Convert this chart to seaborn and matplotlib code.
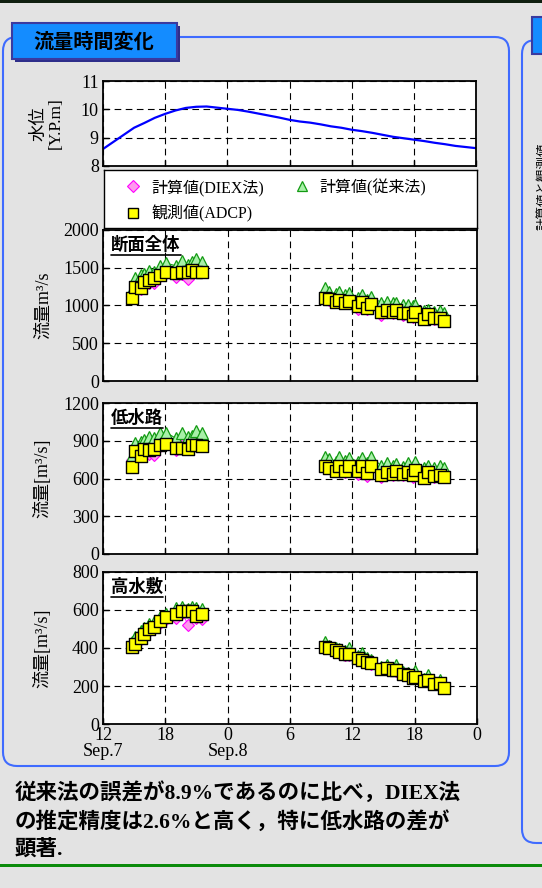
import matplotlib
matplotlib.use("Agg")
import matplotlib.pyplot as plt
import pandas as pd
import seaborn as sns
from matplotlib.patches import FancyBboxPatch, Rectangle
from matplotlib.transforms import IdentityTransform
from matplotlib.font_manager import FontProperties
from matplotlib.lines import Line2D

sns.set_style("white")
FAMILY = ["Liberation Serif", "Noto Sans CJK JP", "DejaVu Sans"]
plt.rcParams["font.family"] = FAMILY
for key in ["text.color", "axes.labelcolor", "xtick.color", "ytick.color"]:
    plt.rcParams[key] = "black"

W, H, DPI = 542, 888, 100

# ---- water level (hours counted from Sep.7 0:00) ----
stage_hour = [12, 13, 14, 15, 16, 17, 18, 19, 20, 21, 22, 23, 24, 25, 26, 27, 28, 29, 30,
              31, 32, 33, 34, 35, 36, 37, 38, 39, 40, 41, 42, 43, 44, 45, 46, 47, 48]
stage_level = [8.60, 8.85, 9.10, 9.35, 9.52, 9.70, 9.84, 9.96, 10.05, 10.09, 10.10, 10.06,
               10.02, 9.98, 9.92, 9.85, 9.78, 9.71, 9.63, 9.57, 9.53, 9.47, 9.40, 9.35,
               9.28, 9.23, 9.17, 9.10, 9.03, 8.98, 8.93, 8.88, 8.82, 8.77, 8.71, 8.67, 8.63]

# ---- ADCP measurement times: rising run (Sep.7) and falling run (Sep.8) ----
run_a_hour = [14.8, 15.1, 15.7, 15.9, 16.4, 16.9, 17.5, 18.1, 19.0, 19.6, 20.2, 20.6, 21.0, 21.5]
run_b_hour = [33.4, 33.8, 34.4, 34.7, 35.3, 35.7, 36.5, 36.9, 37.4, 37.8, 38.8, 39.3,
              39.9, 40.2, 40.9, 41.4, 41.8, 42.0, 42.9, 43.3, 43.9, 44.4, 44.8]

# ---- whole cross-section ----
total_adcp = [1104, 1249, 1236, 1316, 1338, 1360, 1410, 1440, 1426, 1440, 1440, 1465, 1440, 1440,
              1104, 1082, 1051, 1073, 1038, 1060, 995, 1051, 963, 1020, 918, 940,
              918, 940, 896, 905, 861, 909, 817, 883, 830, 830, 795]
total_diex = [1120, 1235, 1215, 1290, 1300, 1295, 1390, 1430, 1380, 1420, 1350, 1450, 1440, 1455,
              1090, 1070, 1040, 1060, 1030, 1045, 960, 1035, 950, 1005, 880, 930,
              905, 925, 880, 895, 850, 895, 815, 870, 825, 820, 790]
total_conv = [1205, 1360, 1400, 1420, 1457, 1450, 1527, 1559, 1527, 1589, 1540, 1572, 1612, 1572,
              1228, 1183, 1152, 1175, 1140, 1170, 1100, 1139, 1075, 1117, 1038, 1051,
              1030, 1038, 1007, 1000, 990, 1007, 925, 940, 915, 931, 896]

# ---- main channel ----
main_adcp = [692, 821, 781, 835, 830, 838, 870, 878, 840, 846, 838, 870, 864, 856,
             702, 686, 660, 702, 660, 702, 660, 702, 641, 702, 628, 649,
             638, 660, 638, 649, 628, 668, 607, 649, 622, 628, 614]
main_diex = [745, 810, 790, 820, 795, 790, 860, 880, 830, 870, 835, 890, 880, 870,
             705, 690, 662, 700, 655, 695, 635, 698, 620, 698, 610, 648,
             630, 655, 630, 645, 615, 660, 605, 640, 612, 620, 610]
main_conv = [779, 880, 893, 905, 928, 920, 959, 964, 920, 964, 930, 940, 980, 959,
             774, 755, 730, 769, 740, 765, 735, 761, 720, 774, 700, 721,
             700, 718, 695, 721, 690, 734, 680, 702, 685, 702, 680]

# ---- flood plain ----
flood_adcp = [407, 420, 452, 475, 499, 512, 540, 561, 579, 593, 593, 596, 571, 579,
              407, 399, 390, 378, 367, 367, 346, 337, 328, 320, 291, 295,
              282, 282, 261, 256, 243, 247, 226, 230, 208, 215, 190]
flood_diex = [410, 425, 450, 470, 490, 505, 530, 555, 560, 585, 522, 590, 560, 554,
              405, 400, 388, 376, 365, 365, 345, 335, 320, 315, 290, 295,
              282, 280, 262, 255, 245, 248, 228, 232, 215, 218, 200]
flood_conv = [430, 457, 492, 505, 527, 535, 565, 579, 611, 616, 605, 616, 611, 607,
              434, 410, 400, 395, 385, 399, 360, 374, 345, 335, 300, 310,
              295, 311, 275, 270, 260, 277, 235, 258, 220, 230, 205]

x_ticks = [12, 18, 24, 30, 36, 42, 48]
x_ticklabels = ["12\nSep.7", "18", "0\nSep.8", "6", "12", "18", "0"]

panels = [
    ("断面全体", "流量m³/s", total_adcp, total_diex, total_conv, [0, 500, 1000, 1500, 2000]),
    ("低水路", "流量[m³/s]", main_adcp, main_diex, main_conv, [0, 300, 600, 900, 1200]),
    ("高水敷", "流量[m³/s]", flood_adcp, flood_diex, flood_conv, [0, 200, 400, 600, 800]),
]

obs_hour = run_a_hour + run_b_hour
obs_run = ["a"] * len(run_a_hour) + ["b"] * len(run_b_hour)

DIEX_STYLE = dict(color="#FF33FF", lw=0.8, marker="D", markersize=6.5,
                  markerfacecolor="#FF99EE", markeredgecolor="#FF00FF", markeredgewidth=0.8)
CONV_STYLE = dict(color="#139A13", lw=0.8, marker="^", markersize=8.5,
                  markerfacecolor="#A8F0A8", markeredgecolor="#139A13", markeredgewidth=0.9)
ADCP_STYLE = dict(marker="s", s=70, color="#FFFF00", edgecolor="black", linewidth=1.0)

fig = plt.figure(figsize=(W / DPI, H / DPI), dpi=DPI)
fig.patch.set_facecolor("#E3E3E3")


def px_axes(left, top, right, bottom):
    return fig.add_axes([left / W, 1 - bottom / H, (right - left) / W, (bottom - top) / H])


def style_axes(ax, yticks, show_xlabels):
    ax.set_facecolor("white")
    ax.set_xlim(12, 48)
    ax.set_ylim(yticks[0], yticks[-1])
    ax.set_xticks(x_ticks)
    ax.set_yticks(yticks)
    ax.set_xticklabels(x_ticklabels if show_xlabels else [])
    ax.set_axisbelow(True)
    ax.grid(True, color="black", lw=0.8, ls=(0, (6, 4)))
    ax.tick_params(direction="in", length=4, width=1, labelsize=13, pad=3,
                   left=True, bottom=True, top=False, right=False)
    ax.tick_params(axis="x", pad=2)
    for lab in ax.get_xticklabels():
        lab.set_linespacing(0.95)
    for sp in ax.spines.values():
        sp.set_visible(True)
        sp.set_color("black")
        sp.set_linewidth(1.3)
    ax.set_xlabel("")


# ---- water level panel ----
ax_w = px_axes(103, 81, 476, 166)
stage = pd.DataFrame({"hour": stage_hour, "level": stage_level})
sns.lineplot(data=stage, x="hour", y="level", ax=ax_w, color="#0000FF", lw=1.6)
style_axes(ax_w, [8, 9, 10, 11], False)
ax_w.set_ylabel("水位\n[Y.P.m]", fontsize=12.5, linespacing=1.05)
ax_w.yaxis.set_label_coords(-0.105, 0.5)

# ---- discharge panels ----
frames = [(230, 381), (403, 554), (572, 724)]
panel_axes = []
for (title, ylab, adcp, diex, conv, yticks), (top, bottom) in zip(panels, frames):
    ax = px_axes(103, top, 477, bottom)
    df = pd.DataFrame({"hour": obs_hour, "run": obs_run,
                       "adcp": adcp, "diex": diex, "conv": conv})
    for run, sub in df.groupby("run"):
        sns.lineplot(data=sub, x="hour", y="diex", ax=ax, estimator=None, sort=False,
                     zorder=2, **DIEX_STYLE)
        sns.lineplot(data=sub, x="hour", y="conv", ax=ax, estimator=None, sort=False,
                     zorder=3, **CONV_STYLE)
    sns.scatterplot(data=df, x="hour", y="adcp", ax=ax, zorder=4, legend=False, **ADCP_STYLE)
    style_axes(ax, yticks, bottom == 724)
    ax.set_ylabel(ylab, fontsize=13)
    ax.yaxis.set_label_coords(-0.137, 0.5)
    t = ax.text(0.022, 0.955, title, transform=ax.transAxes, ha="left", va="top",
                fontsize=12.5, fontweight="bold", zorder=6)
    panel_axes.append((ax, t))

# ---- legend box ----
ax_leg = px_axes(104, 170, 477, 228)
ax_leg.set_facecolor("white")
ax_leg.set_xticks([])
ax_leg.set_yticks([])
for sp in ax_leg.spines.values():
    sp.set_visible(True)
    sp.set_color("black")
    sp.set_linewidth(1.0)
h_diex = Line2D([], [], ls="none", marker="D", markersize=6, markerfacecolor="#FF99EE",
                markeredgecolor="#FF00FF", markeredgewidth=0.8)
h_conv = Line2D([], [], ls="none", marker="^", markersize=7.5, markerfacecolor="#A8F0A8",
                markeredgecolor="#139A13", markeredgewidth=0.9)
h_adcp = Line2D([], [], ls="none", marker="s", markersize=6.5, markerfacecolor="#FFFF00",
                markeredgecolor="black", markeredgewidth=1.0)
ax_leg.legend([h_diex, h_adcp, h_conv], ["計算値(DIEX法)", "観測値(ADCP)", "計算値(従来法)"],
              ncol=2, loc="upper left", bbox_to_anchor=(21.5 / 373, 0.85), frameon=False,
              borderpad=0, borderaxespad=0, handlelength=1.0, handletextpad=0.6,
              columnspacing=1.9, labelspacing=0.6,
              prop=FontProperties(family=FAMILY, size=11.5))

# ---- page decorations (pixel coordinates) ----
ident = IdentityTransform()


def fy(y):
    return H - y


fig.add_artist(Rectangle((0, fy(3)), W, 3, transform=ident, fc="#0F1F0F", ec="none", zorder=0))
fig.add_artist(Rectangle((0, fy(867)), W, 3, transform=ident, fc="#0B8B0B", ec="none", zorder=0))
fig.add_artist(FancyBboxPatch((3, fy(766)), 506, 729, boxstyle="round,pad=0,rounding_size=14",
                              transform=ident, fc="none", ec="#3F6BFF", lw=1.5, zorder=0))
fig.add_artist(FancyBboxPatch((522, fy(843)), 80, 803, boxstyle="round,pad=0,rounding_size=14",
                              transform=ident, fc="none", ec="#3F6BFF", lw=1.5, zorder=0))
# section heading
fig.add_artist(Rectangle((15, fy(62)), 165, 36, transform=ident, fc="#2E2E8A", ec="none", zorder=1))
fig.add_artist(Rectangle((12, fy(59)), 165, 36, transform=ident, fc="#148CFF",
                         ec="#3A3AA0", lw=1.5, zorder=1))
fig.text(94 / W, 1 - 41 / H, "流量時間変化", ha="center", va="center", fontsize=14.5,
         fontweight="bold", family=["Noto Sans CJK JP", "DejaVu Sans"], zorder=2)
fig.add_artist(Rectangle((532, fy(54)), 24, 37, transform=ident, fc="#148CFF",
                         ec="#3A3AA0", lw=1.5, zorder=1))
fig.text(537 / W, 1 - 186 / H, "計算値と観測値", rotation=90, ha="left", va="center",
         fontsize=9, family=["Noto Sans CJK JP", "DejaVu Sans"])

# summary text
summary = ["従来法の誤差が8.9%であるのに比べ，DIEX法",
           "の推定精度は2.6%と高く，特に低水路の差が",
           "顕著."]
for line, y in zip(summary, [793, 822, 850]):
    fig.text(15 / W, 1 - y / H, line, ha="left", va="center", fontsize=15.5,
             fontweight="bold", family=FAMILY)

# underline the panel titles
fig.canvas.draw()
renderer = fig.canvas.get_renderer()
for ax, t in panel_axes:
    bb = t.get_window_extent(renderer)
    fig.add_artist(Line2D([bb.x0, bb.x1], [bb.y0 - 1, bb.y0 - 1], transform=ident,
                          color="black", lw=1.2, zorder=7))

fig.savefig("out.png", dpi=DPI, facecolor=fig.get_facecolor())
